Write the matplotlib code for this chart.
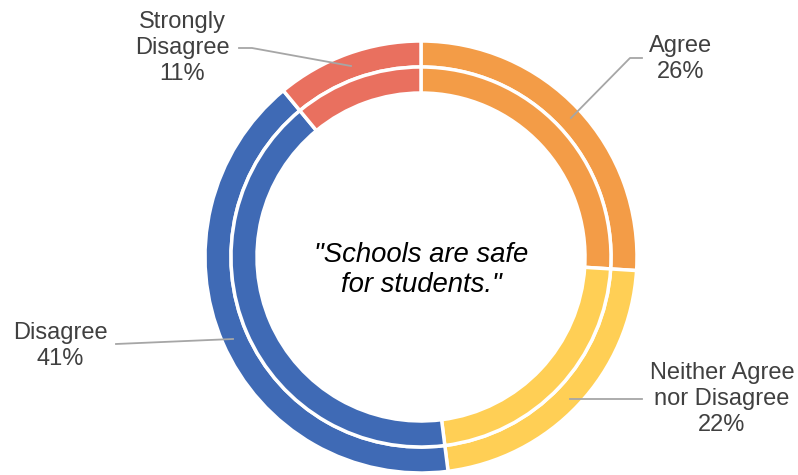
import matplotlib.pyplot as plt

plt.rcParams['font.family'] = ['Liberation Sans', 'DejaVu Sans']

# data
labels = ['Agree', 'Neither Agree\nnor Disagree', 'Disagree', 'Strongly\nDisagree']
values = [26, 22, 41, 11]
colors = ['#F39C47', '#FFCF55', '#3F6AB5', '#E9705F']

# label text centres and leader lines, in pixel coords (top-left origin)
label_pos = [(681, 59), (722, 399), (60, 346), (182, 48)]
leaders = [
    [(642, 58), (630, 58), (571, 118)],
    [(642, 399), (570, 399)],
    [(116, 344), (233, 339)],
    [(239, 48), (252, 48), (351, 66)],
]

W, H = 798, 475
cx, cy = 421, 257

fig = plt.figure(figsize=(W / 100, H / 100), dpi=100)
ax = fig.add_axes([0, 0, 1, 1])
ax.set_xlim(0, W)
ax.set_ylim(0, H)
ax.set_aspect('equal')
ax.axis('off')

R = 216
ring = 26
for r in (R, R - ring):
    ax.pie(values, colors=colors, startangle=90, counterclock=False,
           radius=r, center=(cx, H - cy),
           wedgeprops=dict(width=ring, edgecolor='white', linewidth=2.5))

ax.set_xlim(0, W)
ax.set_ylim(0, H)

for lab, v, (x, y), pts in zip(labels, values, label_pos, leaders):
    ax.text(x, H - y, f'{lab}\n{v}%', ha='center', va='center',
            fontsize=17, color='#404040', linespacing=1.22)
    ax.plot([p[0] for p in pts], [H - p[1] for p in pts],
            color='#A6A6A6', lw=1.3)

ax.text(cx, H - 270, '"Schools are safe\nfor students."', ha='center',
        va='center', fontsize=19.8, style='italic', color='black',
        linespacing=1.2)

fig.savefig('out.png', dpi=100)
